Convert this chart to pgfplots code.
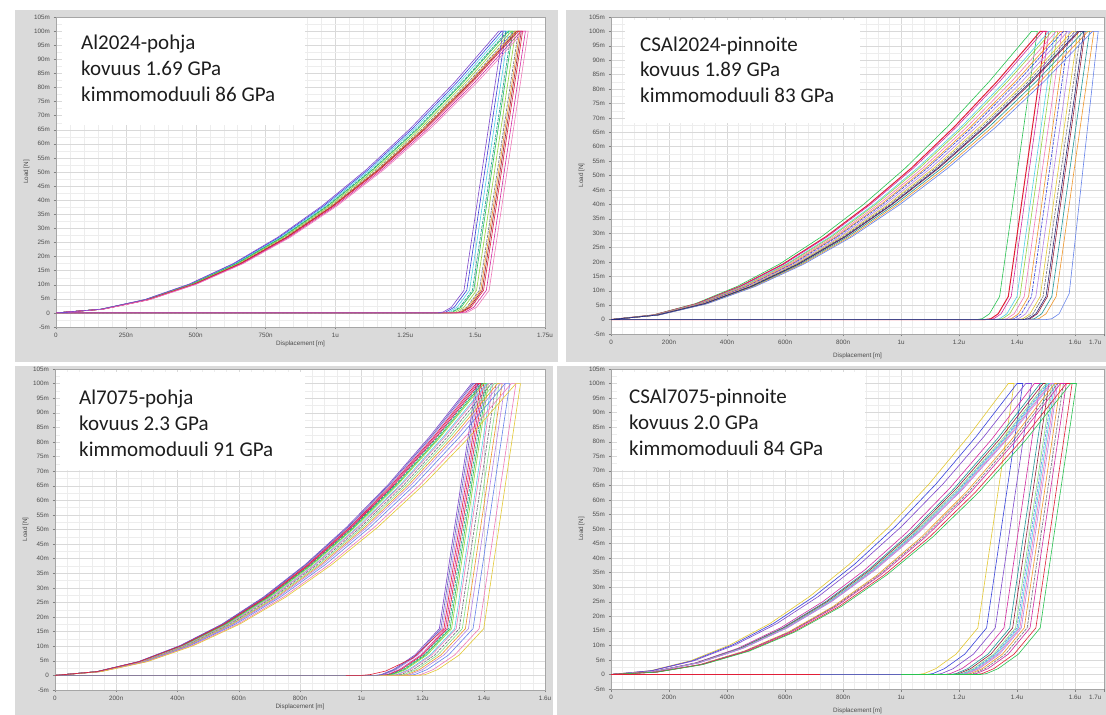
\documentclass[border=0pt]{standalone}
\usepackage{fontspec}
\setmainfont{Carlito}
\newfontfamily\tickfont{Liberation Sans}
\usepackage{pgfplots}
\pgfplotsset{compat=1.18}
\definecolor{cPur}{RGB}{125,70,205}
\definecolor{cBlu}{RGB}{55,65,220}
\definecolor{cCya}{RGB}{80,210,230}
\definecolor{cTea}{RGB}{30,150,150}
\definecolor{cGre}{RGB}{40,195,80}
\definecolor{cLim}{RGB}{150,210,60}
\definecolor{cRed}{RGB}{225,30,55}
\definecolor{cMag}{RGB}{210,40,160}
\definecolor{cPin}{RGB}{240,120,185}
\definecolor{cOra}{RGB}{240,150,40}
\definecolor{cYel}{RGB}{228,200,50}
\definecolor{cGra}{RGB}{110,110,125}
\definecolor{cDre}{RGB}{150,30,55}
\definecolor{cVio}{RGB}{180,130,230}
\definecolor{cNav}{RGB}{40,40,120}
\definecolor{cLgr}{RGB}{130,225,130}
\definecolor{cLbl}{RGB}{100,130,235}
\definecolor{cZero}{RGB}{95,100,185}
\definecolor{frame}{RGB}{218,218,218}
\definecolor{txt}{RGB}{30,30,30}
\pgfplotsset{
  panel/.style={
    scale only axis, anchor=south west,
    ymin=-5, ymax=105,
    ytick={-5,0,5,10,15,20,25,30,35,40,45,50,55,60,65,70,75,80,85,90,95,100,105},
    yticklabels={-5m,0,5m,10m,15m,20m,25m,30m,35m,40m,45m,50m,55m,60m,65m,70m,75m,80m,85m,90m,95m,100m,105m},
    grid=both, minor x tick num=4, minor y tick num=1,
    major grid style={draw=black!15, line width=0.4pt},
    minor grid style={draw=black!7, line width=0.3pt},
    axis line style={draw=black!35},
    tick style={draw=black!50, line width=0.4pt},
    major tick length=2.5pt, minor tick length=0pt,
    tick align=outside, xtick pos=bottom, ytick pos=left,
    tick label style={font=\tickfont\fontsize{6.3}{7}\selectfont, text=black!70},
    label style={font=\tickfont\fontsize{6.3}{7}\selectfont, text=black!70},
    xlabel={Displacement [m]}, ylabel={Load [N]},
    xlabel style={yshift=3pt}, ylabel style={yshift=-2pt},
    axis background/.style={fill=white},
    every axis plot/.append style={line width=0.6pt, no markers},
  },
  end17/.style={
    extra x ticks={1.7}, extra x tick labels={1.7u},
    extra x tick style={grid=none, xticklabel style={anchor=north east, xshift=1pt}},
  },
  dsh/.style={dash pattern=on 3pt off 1pt},
}
\begin{document}
\begin{tikzpicture}
\useasboundingbox (0,0) rectangle (1106pt,715pt);
\fill[white] (0,0) rectangle (1106pt,715pt);
\fill[frame] (15pt,353pt) rectangle (558pt,705pt);
\fill[frame] (566pt,353pt) rectangle (1106pt,705pt);
\fill[frame] (15pt,0pt) rectangle (553pt,349pt);
\fill[frame] (557pt,0pt) rectangle (1106pt,349pt);

% ---------------- Panel 1: Al2024-pohja
\begin{axis}[panel, at={(56pt,388pt)}, width=489pt, height=310pt,
  xmin=0, xmax=1.75, xtick={0,0.25,0.5,0.75,1,1.25,1.5,1.75},
  xticklabels={0,250n,500n,750n,1u,1.25u,1.5u,1.75u}]
\addplot[cBlu] coordinates {(0,0)(0.160,1.3)(0.319,4.7)(0.479,10.2)(0.638,17.5)(0.798,26.8)(0.957,37.9)(1.117,50.8)(1.276,65.4)(1.436,81.9)(1.595,100)(1.610,100)(1.470,8)(1.425,2)(1.395,0.3)(1.375,0)(0,0)};
\addplot[cCya] coordinates {(0,0)(0.161,1.3)(0.321,4.7)(0.482,10.2)(0.642,17.5)(0.803,26.8)(0.963,37.9)(1.124,50.8)(1.284,65.4)(1.445,81.9)(1.605,100)(1.620,100)(1.480,8)(1.435,2)(1.405,0.3)(1.385,0)(0,0)};
\addplot[cTea,dsh] coordinates {(0,0)(0.162,1.3)(0.323,4.7)(0.485,10.2)(0.646,17.5)(0.808,26.8)(0.969,37.9)(1.131,50.8)(1.292,65.4)(1.454,81.9)(1.615,100)(1.630,100)(1.490,8)(1.445,2)(1.415,0.3)(1.395,0)(0,0)};
\addplot[cGre] coordinates {(0,0)(0.162,1.3)(0.324,4.7)(0.486,10.2)(0.648,17.5)(0.810,26.8)(0.972,37.9)(1.134,50.8)(1.296,65.4)(1.458,81.9)(1.620,100)(1.635,100)(1.495,8)(1.450,2)(1.420,0.3)(1.400,0)(0,0)};
\addplot[cLim] coordinates {(0,0)(0.163,1.3)(0.326,4.7)(0.489,10.2)(0.652,17.5)(0.815,26.8)(0.978,37.9)(1.141,50.8)(1.304,65.4)(1.467,81.9)(1.630,100)(1.645,100)(1.505,8)(1.460,2)(1.430,0.3)(1.410,0)(0,0)};
\addplot[cGra,dsh] coordinates {(0,0)(0.164,1.3)(0.328,4.7)(0.492,10.2)(0.656,17.5)(0.820,26.8)(0.984,37.9)(1.148,50.8)(1.312,65.4)(1.476,81.9)(1.640,100)(1.655,100)(1.515,8)(1.470,2)(1.440,0.3)(1.420,0)(0,0)};
\addplot[cOra] coordinates {(0,0)(0.165,1.3)(0.329,4.7)(0.494,10.2)(0.658,17.5)(0.823,26.8)(0.987,37.9)(1.152,50.8)(1.316,65.4)(1.481,81.9)(1.645,100)(1.660,100)(1.520,8)(1.475,2)(1.445,0.3)(1.425,0)(0,0)};
\addplot[cDre] coordinates {(0,0)(0.165,1.3)(0.330,4.7)(0.495,10.2)(0.660,17.5)(0.825,26.8)(0.990,37.9)(1.155,50.8)(1.320,65.4)(1.485,81.9)(1.650,100)(1.665,100)(1.525,8)(1.480,2)(1.450,0.3)(1.430,0)(0,0)};
\addplot[cRed] coordinates {(0,0)(0.166,1.3)(0.331,4.7)(0.497,10.2)(0.662,17.5)(0.828,26.8)(0.993,37.9)(1.159,50.8)(1.324,65.4)(1.490,81.9)(1.655,100)(1.670,100)(1.530,8)(1.485,2)(1.455,0.3)(1.435,0)(0,0)};
\addplot[cMag] coordinates {(0,0)(0.167,1.3)(0.333,4.7)(0.500,10.2)(0.666,17.5)(0.833,26.8)(0.999,37.9)(1.166,50.8)(1.332,65.4)(1.499,81.9)(1.665,100)(1.680,100)(1.540,8)(1.495,2)(1.465,0.3)(1.445,0)(0,0)};
\addplot[cPin] coordinates {(0,0)(0.168,1.3)(0.335,4.7)(0.503,10.2)(0.670,17.5)(0.838,26.8)(1.005,37.9)(1.173,50.8)(1.340,65.4)(1.508,81.9)(1.675,100)(1.690,100)(1.550,8)(1.505,2)(1.475,0.3)(1.455,0)(0,0)};
\addplot[cPur] coordinates {(0,0)(0.159,1.3)(0.317,4.7)(0.476,10.2)(0.634,17.5)(0.793,26.8)(0.951,37.9)(1.110,50.8)(1.268,65.4)(1.427,81.9)(1.585,100)(1.600,100)(1.460,8)(1.415,2)(1.385,0.3)(1.365,0)(0,0)};
\end{axis}

% ---------------- Panel 2: CSAl2024-pinnoite
\begin{axis}[panel, end17, at={(611pt,381pt)}, width=493pt, height=317pt,
  xmin=0, xmax=1.7, xtick={0,0.2,0.4,0.6,0.8,1,1.2,1.4,1.6},
  xticklabels={0,200n,400n,600n,800n,1u,1.2u,1.4u,1.6u}]
\addplot[cGre] coordinates {(0,0)(0.145,1.6)(0.290,5.5)(0.435,11.5)(0.580,19.2)(0.725,28.7)(0.870,39.9)(1.015,52.6)(1.160,66.9)(1.305,82.7)(1.450,100)(1.470,100)(1.340,8)(1.305,2)(1.280,0.3)(1.260,0)(0,0)};
\addplot[cRed, line width=1pt] coordinates {(0,0)(0.148,1.6)(0.296,5.5)(0.444,11.5)(0.592,19.2)(0.740,28.7)(0.888,39.9)(1.036,52.6)(1.184,66.9)(1.332,82.7)(1.480,100)(1.500,100)(1.370,8)(1.335,2)(1.310,0.3)(1.290,0)(0,0)};
\addplot[cMag] coordinates {(0,0)(0.149,1.6)(0.298,5.5)(0.447,11.5)(0.596,19.2)(0.745,28.7)(0.894,39.9)(1.043,52.6)(1.192,66.9)(1.341,82.7)(1.490,100)(1.510,100)(1.380,8)(1.345,2)(1.320,0.3)(1.300,0)(0,0)};
\addplot[cCya] coordinates {(0,0)(0.151,1.6)(0.302,5.5)(0.453,11.5)(0.604,19.2)(0.755,28.7)(0.906,39.9)(1.057,52.6)(1.208,66.9)(1.359,82.7)(1.510,100)(1.530,100)(1.400,8)(1.365,2)(1.340,0.3)(1.320,0)(0,0)};
\addplot[cLim] coordinates {(0,0)(0.152,1.6)(0.304,5.5)(0.456,11.5)(0.608,19.2)(0.760,28.7)(0.912,39.9)(1.064,52.6)(1.216,66.9)(1.368,82.7)(1.520,100)(1.540,100)(1.410,8)(1.375,2)(1.350,0.3)(1.330,0)(0,0)};
\addplot[cPin] coordinates {(0,0)(0.154,1.6)(0.307,5.5)(0.461,11.5)(0.614,19.2)(0.768,28.7)(0.921,39.9)(1.075,52.6)(1.228,66.9)(1.382,82.7)(1.535,100)(1.555,100)(1.425,8)(1.390,2)(1.365,0.3)(1.345,0)(0,0)};
\addplot[cOra] coordinates {(0,0)(0.155,1.6)(0.310,5.5)(0.465,11.5)(0.620,19.2)(0.775,28.7)(0.930,39.9)(1.085,52.6)(1.240,66.9)(1.395,82.7)(1.550,100)(1.570,100)(1.440,8)(1.405,2)(1.380,0.3)(1.360,0)(0,0)};
\addplot[cBlu,dsh] coordinates {(0,0)(0.156,1.6)(0.312,5.5)(0.468,11.5)(0.624,19.2)(0.780,28.7)(0.936,39.9)(1.092,52.6)(1.248,66.9)(1.404,82.7)(1.560,100)(1.580,100)(1.450,8)(1.415,2)(1.390,0.3)(1.370,0)(0,0)};
\addplot[cVio] coordinates {(0,0)(0.158,1.6)(0.315,5.5)(0.473,11.5)(0.630,19.2)(0.788,28.7)(0.945,39.9)(1.103,52.6)(1.260,66.9)(1.418,82.7)(1.575,100)(1.595,100)(1.465,8)(1.430,2)(1.405,0.3)(1.385,0)(0,0)};
\addplot[cYel] coordinates {(0,0)(0.159,1.6)(0.318,5.5)(0.477,11.5)(0.636,19.2)(0.795,28.7)(0.954,39.9)(1.113,52.6)(1.272,66.9)(1.431,82.7)(1.590,100)(1.610,100)(1.480,8)(1.445,2)(1.420,0.3)(1.400,0)(0,0)};
\addplot[cGra,dsh] coordinates {(0,0)(0.160,1.6)(0.320,5.5)(0.480,11.5)(0.640,19.2)(0.800,28.7)(0.960,39.9)(1.120,52.6)(1.280,66.9)(1.440,82.7)(1.600,100)(1.620,100)(1.490,8)(1.455,2)(1.430,0.3)(1.410,0)(0,0)};
\addplot[cDre] coordinates {(0,0)(0.162,1.6)(0.323,5.5)(0.485,11.5)(0.646,19.2)(0.808,28.7)(0.969,39.9)(1.131,52.6)(1.292,66.9)(1.454,82.7)(1.615,100)(1.635,100)(1.505,8)(1.470,2)(1.445,0.3)(1.425,0)(0,0)};
\addplot[cTea] coordinates {(0,0)(0.163,1.6)(0.326,5.5)(0.489,11.5)(0.652,19.2)(0.815,28.7)(0.978,39.9)(1.141,52.6)(1.304,66.9)(1.467,82.7)(1.630,100)(1.650,100)(1.520,8)(1.485,2)(1.460,0.3)(1.440,0)(0,0)};
\addplot[cOra] coordinates {(0,0)(0.165,1.6)(0.329,5.5)(0.494,11.5)(0.658,19.2)(0.823,28.7)(0.987,39.9)(1.152,52.6)(1.316,66.9)(1.481,82.7)(1.645,100)(1.665,100)(1.535,8)(1.500,2)(1.475,0.3)(1.455,0)(0,0)};
\addplot[cLbl] coordinates {(0,0)(0.166,1.6)(0.332,5.5)(0.498,11.5)(0.664,19.2)(0.830,28.7)(0.996,39.9)(1.162,52.6)(1.328,66.9)(1.494,82.7)(1.660,100)(1.680,100)(1.580,9)(1.545,2)(1.520,0.3)(1.500,0)(0,0)};
\addplot[cNav] coordinates {(0,0)(0.161,1.6)(0.322,5.5)(0.483,11.5)(0.644,19.2)(0.805,28.7)(0.966,39.9)(1.127,52.6)(1.288,66.9)(1.449,82.7)(1.610,100)(1.630,100)(1.500,8)(1.465,2)(1.440,0.3)(1.420,0)(0,0)};
\end{axis}

% ---------------- Panel 3: Al7075-pohja
\begin{axis}[panel, at={(55pt,25pt)}, width=490pt, height=321pt,
  xmin=0, xmax=1.6, xtick={0,0.2,0.4,0.6,0.8,1,1.2,1.4,1.6},
  xticklabels={0,200n,400n,600n,800n,1u,1.2u,1.4u,1.6u}]
\addplot[cPur] coordinates {(0,0)(0.136,1.3)(0.272,4.7)(0.408,10.2)(0.544,17.5)(0.680,26.8)(0.816,37.9)(0.952,50.8)(1.088,65.4)(1.224,81.9)(1.360,100)(1.375,100)(1.255,16)(1.175,7)(1.105,2)(1.065,0.3)(1.045,0)(0,0)};
\addplot[cVio] coordinates {(0,0)(0.137,1.3)(0.274,4.7)(0.411,10.2)(0.548,17.5)(0.685,26.8)(0.822,37.9)(0.959,50.8)(1.096,65.4)(1.233,81.9)(1.370,100)(1.385,100)(1.265,16)(1.185,7)(1.115,2)(1.075,0.3)(1.055,0)(0,0)};
\addplot[cMag] coordinates {(0,0)(0.138,1.3)(0.276,4.7)(0.414,10.2)(0.552,17.5)(0.690,26.8)(0.828,37.9)(0.966,50.8)(1.104,65.4)(1.242,81.9)(1.380,100)(1.395,100)(1.275,16)(1.195,7)(1.125,2)(1.085,0.3)(1.065,0)(0,0)};
\addplot[cRed] coordinates {(0,0)(0.139,1.3)(0.277,4.7)(0.416,10.2)(0.554,17.5)(0.693,26.8)(0.831,37.9)(0.970,50.8)(1.108,65.4)(1.247,81.9)(1.385,100)(1.400,100)(1.280,16)(1.200,7)(1.130,2)(1.090,0.3)(1.070,0)(0,0)};
\addplot[cTea,dsh] coordinates {(0,0)(0.139,1.3)(0.278,4.7)(0.417,10.2)(0.556,17.5)(0.695,26.8)(0.834,37.9)(0.973,50.8)(1.112,65.4)(1.251,81.9)(1.390,100)(1.405,100)(1.285,16)(1.205,7)(1.135,2)(1.095,0.3)(1.075,0)(0,0)};
\addplot[cGre] coordinates {(0,0)(0.140,1.3)(0.279,4.7)(0.419,10.2)(0.558,17.5)(0.698,26.8)(0.837,37.9)(0.977,50.8)(1.116,65.4)(1.256,81.9)(1.395,100)(1.410,100)(1.290,16)(1.210,7)(1.140,2)(1.100,0.3)(1.080,0)(0,0)};
\addplot[cLim] coordinates {(0,0)(0.140,1.3)(0.280,4.7)(0.420,10.2)(0.560,17.5)(0.700,26.8)(0.840,37.9)(0.980,50.8)(1.120,65.4)(1.260,81.9)(1.400,100)(1.415,100)(1.295,16)(1.215,7)(1.145,2)(1.105,0.3)(1.085,0)(0,0)};
\addplot[cCya] coordinates {(0,0)(0.141,1.3)(0.282,4.7)(0.423,10.2)(0.564,17.5)(0.705,26.8)(0.846,37.9)(0.987,50.8)(1.128,65.4)(1.269,81.9)(1.410,100)(1.425,100)(1.305,16)(1.225,7)(1.155,2)(1.115,0.3)(1.095,0)(0,0)};
\addplot[cPin] coordinates {(0,0)(0.142,1.3)(0.283,4.7)(0.425,10.2)(0.566,17.5)(0.708,26.8)(0.849,37.9)(0.991,50.8)(1.132,65.4)(1.274,81.9)(1.415,100)(1.430,100)(1.310,16)(1.230,7)(1.160,2)(1.120,0.3)(1.100,0)(0,0)};
\addplot[cGra,dsh] coordinates {(0,0)(0.143,1.3)(0.285,4.7)(0.428,10.2)(0.570,17.5)(0.713,26.8)(0.855,37.9)(0.998,50.8)(1.140,65.4)(1.283,81.9)(1.425,100)(1.440,100)(1.320,16)(1.240,7)(1.170,2)(1.130,0.3)(1.110,0)(0,0)};
\addplot[cLgr] coordinates {(0,0)(0.144,1.3)(0.287,4.7)(0.431,10.2)(0.574,17.5)(0.718,26.8)(0.861,37.9)(1.005,50.8)(1.148,65.4)(1.292,81.9)(1.435,100)(1.450,100)(1.330,16)(1.250,7)(1.180,2)(1.140,0.3)(1.120,0)(0,0)};
\addplot[cOra] coordinates {(0,0)(0.145,1.3)(0.289,4.7)(0.434,10.2)(0.578,17.5)(0.723,26.8)(0.867,37.9)(1.012,50.8)(1.156,65.4)(1.301,81.9)(1.445,100)(1.460,100)(1.340,16)(1.260,7)(1.190,2)(1.150,0.3)(1.130,0)(0,0)};
\addplot[cVio] coordinates {(0,0)(0.146,1.3)(0.291,4.7)(0.437,10.2)(0.582,17.5)(0.728,26.8)(0.873,37.9)(1.019,50.8)(1.164,65.4)(1.310,81.9)(1.455,100)(1.470,100)(1.350,16)(1.270,7)(1.200,2)(1.160,0.3)(1.140,0)(0,0)};
\addplot[cLbl] coordinates {(0,0)(0.147,1.3)(0.294,4.7)(0.441,10.2)(0.588,17.5)(0.735,26.8)(0.882,37.9)(1.029,50.8)(1.176,65.4)(1.323,81.9)(1.470,100)(1.485,100)(1.365,16)(1.285,7)(1.215,2)(1.175,0.3)(1.155,0)(0,0)};
\addplot[cPin] coordinates {(0,0)(0.149,1.3)(0.298,4.7)(0.447,10.2)(0.596,17.5)(0.745,26.8)(0.894,37.9)(1.043,50.8)(1.192,65.4)(1.341,81.9)(1.490,100)(1.505,100)(1.385,16)(1.305,7)(1.235,2)(1.195,0.3)(1.175,0)(0,0)};
\addplot[cYel] coordinates {(0,0)(0.151,1.3)(0.301,4.7)(0.452,10.2)(0.602,17.5)(0.753,26.8)(0.903,37.9)(1.054,50.8)(1.204,65.4)(1.355,81.9)(1.505,100)(1.520,100)(1.400,16)(1.320,7)(1.250,2)(1.210,0.3)(1.190,0)(0,0)};
\addplot[cZero] coordinates {(0,0)(0.137,1.3)(0.273,4.7)(0.410,10.2)(0.546,17.5)(0.683,26.8)(0.819,37.9)(0.956,50.8)(1.092,65.4)(1.229,81.9)(1.365,100)(1.380,100)(1.260,16)(1.180,7)(1.110,2)(1.070,0.3)(1.050,0)(0,0)};
\addplot[cRed] coordinates {(0,0)(0.138,1.3)(0.275,4.7)(0.413,10.2)(0.550,17.5)(0.688,26.8)(0.825,37.9)(0.963,50.8)(1.100,65.4)(1.238,81.9)(1.375,100)(1.390,100)(1.270,16)(1.170,6)(1.080,1.5)(1.030,0.3)(1.000,0)(0.950,0)};
\end{axis}

% ---------------- Panel 4: CSAl7075-pinnoite
\begin{axis}[panel, end17, at={(611pt,26pt)}, width=493pt, height=320pt,
  xmin=0, xmax=1.7, xtick={0,0.2,0.4,0.6,0.8,1,1.2,1.4,1.6},
  xticklabels={0,200n,400n,600n,800n,1u,1.2u,1.4u,1.6u}]
\addplot[cYel] coordinates {(0,0)(0.137,1.3)(0.274,4.7)(0.411,10.2)(0.548,17.5)(0.685,26.8)(0.822,37.9)(0.959,50.8)(1.096,65.4)(1.233,81.9)(1.370,100)(1.390,100)(1.265,16)(1.190,7)(1.120,2)(1.080,0.3)(1.060,0)(0,0)};
\addplot[cBlu] coordinates {(0,0)(0.140,1.3)(0.280,4.7)(0.420,10.2)(0.560,17.5)(0.700,26.8)(0.840,37.9)(0.980,50.8)(1.120,65.4)(1.260,81.9)(1.400,100)(1.420,100)(1.295,16)(1.220,7)(1.150,2)(1.110,0.3)(1.090,0)(0,0)};
\addplot[cPur] coordinates {(0,0)(0.143,1.3)(0.286,4.7)(0.429,10.2)(0.572,17.5)(0.715,26.8)(0.858,37.9)(1.001,50.8)(1.144,65.4)(1.287,81.9)(1.430,100)(1.450,100)(1.325,16)(1.250,7)(1.180,2)(1.140,0.3)(1.120,0)(0,0)};
\addplot[cMag] coordinates {(0,0)(0.146,1)(0.292,4)(0.438,9)(0.584,16)(0.730,25)(0.876,36)(1.022,49)(1.168,64)(1.314,81)(1.460,100)(1.480,100)(1.355,16)(1.280,7)(1.210,2)(1.170,0.3)(1.150,0)(0,0)};
\addplot[cTea] coordinates {(0,0)(0.148,1)(0.296,4)(0.444,9)(0.592,16)(0.740,25)(0.888,36)(1.036,49)(1.184,64)(1.332,81)(1.480,100)(1.500,100)(1.375,16)(1.300,7)(1.230,2)(1.190,0.3)(1.170,0)(0,0)};
\addplot[cDre] coordinates {(0,0)(0.149,1)(0.298,4)(0.447,9)(0.596,16)(0.745,25)(0.894,36)(1.043,49)(1.192,64)(1.341,81)(1.490,100)(1.510,100)(1.385,16)(1.310,7)(1.240,2)(1.200,0.3)(1.180,0)(0,0)};
\addplot[cLgr] coordinates {(0,0)(0.150,1)(0.300,4)(0.450,9)(0.600,16)(0.750,25)(0.900,36)(1.050,49)(1.200,64)(1.350,81)(1.500,100)(1.520,100)(1.395,16)(1.320,7)(1.250,2)(1.210,0.3)(1.190,0)(0,0)};
\addplot[cLbl,dsh] coordinates {(0,0)(0.151,1)(0.301,4)(0.452,9)(0.602,16)(0.753,25)(0.903,36)(1.054,49)(1.204,64)(1.355,81)(1.505,100)(1.525,100)(1.400,16)(1.325,7)(1.255,2)(1.215,0.3)(1.195,0)(0,0)};
\addplot[cCya] coordinates {(0,0)(0.151,1)(0.302,4)(0.453,9)(0.604,16)(0.755,25)(0.906,36)(1.057,49)(1.208,64)(1.359,81)(1.510,100)(1.530,100)(1.405,16)(1.330,7)(1.260,2)(1.220,0.3)(1.200,0)(0,0)};
\addplot[cPin] coordinates {(0,0)(0.152,1)(0.303,4)(0.455,9)(0.606,16)(0.758,25)(0.909,36)(1.061,49)(1.212,64)(1.364,81)(1.515,100)(1.535,100)(1.410,16)(1.335,7)(1.265,2)(1.225,0.3)(1.205,0)(0,0)};
\addplot[cVio] coordinates {(0,0)(0.152,1)(0.304,4)(0.456,9)(0.608,16)(0.760,25)(0.912,36)(1.064,49)(1.216,64)(1.368,81)(1.520,100)(1.540,100)(1.415,16)(1.340,7)(1.270,2)(1.230,0.3)(1.210,0)(0,0)};
\addplot[cOra] coordinates {(0,0)(0.153,0.8)(0.306,3.4)(0.459,8.0)(0.612,14.6)(0.765,23.3)(0.918,34.2)(1.071,47.3)(1.224,62.6)(1.377,80.2)(1.530,100)(1.550,100)(1.425,16)(1.350,7)(1.280,2)(1.240,0.3)(1.220,0)(0,0)};
\addplot[cGra,dsh] coordinates {(0,0)(0.154,0.8)(0.308,3.4)(0.462,8.0)(0.616,14.6)(0.770,23.3)(0.924,34.2)(1.078,47.3)(1.232,62.6)(1.386,80.2)(1.540,100)(1.560,100)(1.435,16)(1.360,7)(1.290,2)(1.250,0.3)(1.230,0)(0,0)};
\addplot[cMag] coordinates {(0,0)(0.155,0.8)(0.310,3.4)(0.465,8.0)(0.620,14.6)(0.775,23.3)(0.930,34.2)(1.085,47.3)(1.240,62.6)(1.395,80.2)(1.550,100)(1.570,100)(1.445,16)(1.370,7)(1.300,2)(1.260,0.3)(1.240,0)(0,0)};
\addplot[cRed] coordinates {(0,0)(0.157,0.8)(0.314,3.4)(0.471,8.0)(0.628,14.6)(0.785,23.3)(0.942,34.2)(1.099,47.3)(1.256,62.6)(1.413,80.2)(1.570,100)(1.590,100)(1.465,16)(1.390,7)(1.320,2)(1.280,0.3)(1.260,0)(0,0)};
\addplot[cGre] coordinates {(0,0)(0.159,0.8)(0.317,3.4)(0.476,8.0)(0.634,14.6)(0.793,23.3)(0.951,34.2)(1.110,47.3)(1.268,62.6)(1.427,80.2)(1.585,100)(1.605,100)(1.480,16)(1.405,7)(1.335,2)(1.295,0.3)(1.275,0)(0,0)};
\addplot[cZero] coordinates {(0,0)(1.000,0)};
\addplot[cRed, line width=1.2pt] coordinates {(0,0)(0.720,0)};
\end{axis}

% ---------------- text boxes
\fill[white] (62pt,590pt) rectangle (305pt,697pt);
\fill[white] (625pt,592pt) rectangle (860pt,695pt);
\fill[white] (60pt,245pt) rectangle (305pt,343pt);
\fill[white] (617pt,245pt) rectangle (865pt,343pt);
\begin{scope}[every node/.style={anchor=base west, inner sep=0pt, text=txt, font=\fontsize{21}{26}\selectfont}]
\node at (81pt,665pt) {Al2024-pohja};
\node at (81pt,639pt) {kovuus 1.69 GPa};
\node at (81pt,613pt) {kimmomoduuli 86 GPa};
\node at (640pt,663pt) {CSAl2024-pinnoite};
\node at (640pt,638pt) {kovuus 1.89 GPa};
\node at (640pt,612pt) {kimmomoduuli 83 GPa};
\node at (79pt,310pt) {Al7075-pohja};
\node at (79pt,284pt) {kovuus 2.3 GPa};
\node at (79pt,258pt) {kimmomoduuli 91 GPa};
\node at (629pt,311pt) {CSAl7075-pinnoite};
\node at (629pt,285pt) {kovuus 2.0 GPa};
\node at (629pt,259pt) {kimmomoduuli 84 GPa};
\end{scope}
\end{tikzpicture}
\end{document}
